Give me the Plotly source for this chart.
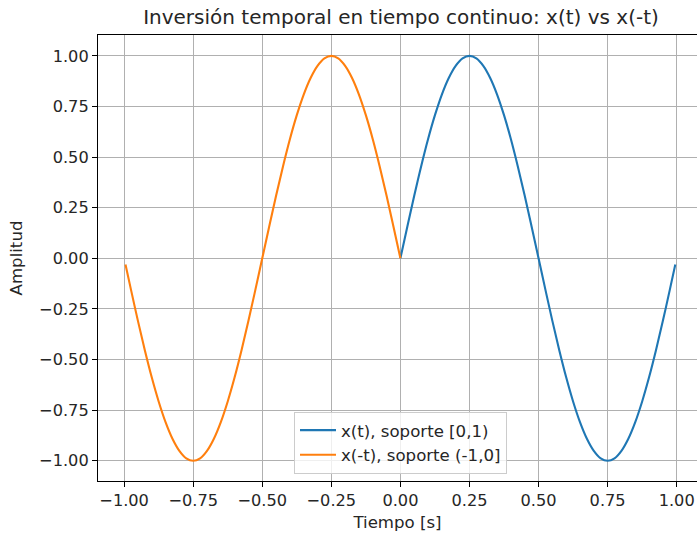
import plotly.graph_objects as go

# Muestras de x(t) sobre [0, 1)
t_pos = [0.0, 0.025, 0.05, 0.075, 0.1, 0.125, 0.15, 0.175, 0.2, 0.225,
         0.25, 0.275, 0.3, 0.325, 0.35, 0.375, 0.4, 0.425, 0.45, 0.475,
         0.5, 0.525, 0.55, 0.575, 0.6, 0.625, 0.65, 0.675, 0.7, 0.725,
         0.75, 0.775, 0.8, 0.825, 0.85, 0.875, 0.9, 0.925, 0.95, 0.975, 0.995]
x_pos = [0.0, 0.156, 0.309, 0.454, 0.588, 0.707, 0.809, 0.891, 0.951, 0.988,
         1.0, 0.988, 0.951, 0.891, 0.809, 0.707, 0.588, 0.454, 0.309, 0.156,
         0.0, -0.156, -0.309, -0.454, -0.588, -0.707, -0.809, -0.891, -0.951, -0.988,
         -1.0, -0.988, -0.951, -0.891, -0.809, -0.707, -0.588, -0.454, -0.309, -0.156, -0.031]

# Muestras de x(-t) sobre (-1, 0]
t_neg = [-0.995, -0.975, -0.95, -0.925, -0.9, -0.875, -0.85, -0.825, -0.8, -0.775,
         -0.75, -0.725, -0.7, -0.675, -0.65, -0.625, -0.6, -0.575, -0.55, -0.525,
         -0.5, -0.475, -0.45, -0.425, -0.4, -0.375, -0.35, -0.325, -0.3, -0.275,
         -0.25, -0.225, -0.2, -0.175, -0.15, -0.125, -0.1, -0.075, -0.05, -0.025, 0.0]
x_neg = [-0.031, -0.156, -0.309, -0.454, -0.588, -0.707, -0.809, -0.891, -0.951, -0.988,
         -1.0, -0.988, -0.951, -0.891, -0.809, -0.707, -0.588, -0.454, -0.309, -0.156,
         0.0, 0.156, 0.309, 0.454, 0.588, 0.707, 0.809, 0.891, 0.951, 0.988,
         1.0, 0.988, 0.951, 0.891, 0.809, 0.707, 0.588, 0.454, 0.309, 0.156, 0.0]

tick_vals = [-1.0, -0.75, -0.5, -0.25, 0.0, 0.25, 0.5, 0.75, 1.0]

FONT = "DejaVu Sans"
TEXT = "#262626"

fig = go.Figure()
fig.add_trace(go.Scatter(x=t_pos, y=x_pos, mode="lines", line_shape="spline",
                         name="x(t), soporte [0,1)",
                         line=dict(color="#1f77b4", width=2.1)))
fig.add_trace(go.Scatter(x=t_neg, y=x_neg, mode="lines", line_shape="spline",
                         name="x(-t), soporte (-1,0]",
                         line=dict(color="#ff7f0e", width=2.1)))

axis_common = dict(
    showgrid=True, gridcolor="#b0b0b0", gridwidth=1,
    showline=True, linecolor="black", linewidth=1.1,
    ticks="outside", ticklen=5, tickwidth=1.1, tickcolor="black",
    tickfont=dict(family=FONT, size=16.2, color=TEXT),
    zeroline=False, tickvals=tick_vals, tickformat=".2f",
)

fig.update_layout(
    width=697, height=535,
    margin=dict(l=98, r=0, t=35, b=54),
    paper_bgcolor="white", plot_bgcolor="white",
    font=dict(family=FONT, color=TEXT),
    title=dict(text="Inversión temporal en tiempo continuo: x(t) vs x(-t)",
               font=dict(family=FONT, size=20, color=TEXT),
               x=401 / 697, xanchor="center", y=1 - 17 / 535, yanchor="middle"),
    xaxis=dict(range=[-1.0945, 1.0735], mirror=True,
               title=dict(text="Tiempo [s]", font=dict(family=FONT, size=16.6),
                          standoff=6),
               **axis_common),
    yaxis=dict(range=[-1.1, 1.103], mirror=False,
               title=dict(text="Amplitud", font=dict(family=FONT, size=16.6),
                          standoff=12),
               **axis_common),
    legend=dict(x=(400.5 - 98) / 599, xanchor="center", y=0.016, yanchor="bottom",
                bgcolor="rgba(255,255,255,0.8)", bordercolor="#cccccc", borderwidth=1,
                font=dict(family=FONT, size=16.6, color=TEXT),
                itemwidth=36, tracegroupgap=0),
    showlegend=True,
)

fig.write_html("out.html")
